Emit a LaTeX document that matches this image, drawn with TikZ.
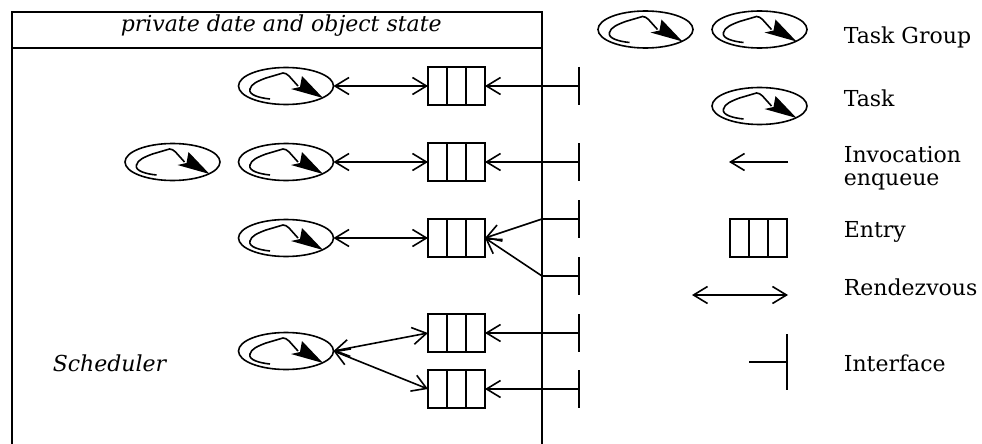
\documentclass[tikz,border=0pt]{standalone}
\usepackage{fontspec}
\setmainfont{DejaVu Serif}
\usetikzlibrary{arrows.meta,shapes.geometric}
\tikzset{
  x=1pt,y=-1pt,
  every path/.style={line width=1.6pt},
  oarrow/.style={-{Straight Barb[length=14pt,width=17pt,line width=1.6pt]}},
  darrow/.style={{Straight Barb[length=14pt,width=17pt,line width=1.6pt]}-{Straight Barb[length=14pt,width=17pt,line width=1.6pt]}},
  taskell/.style={draw,ellipse,minimum width=95pt,minimum height=37pt,inner sep=0pt,outer sep=0pt},
  entrybox/.style={draw,rectangle,minimum width=57pt,minimum height=38pt,inner sep=0pt,outer sep=0pt},
  lab/.style={anchor=base west,inner sep=0pt,font=\fontsize{22}{24}\selectfont},
  ilab/.style={lab,font=\fontsize{22}{24}\selectfont\itshape},
}
\newcommand{\tasknode}[2]{%
  \node[taskell] (#1) at (#2) {};
  \begin{scope}[shift={(#1.center)}]
    \draw (-16,13) .. controls (-26,12) and (-38,9) .. (-36,3) .. controls (-35,-2) and (-28,-5) .. (-20,-8)
      -- (-3,-13) .. controls (-1,-13) and (1,-12) .. (3,-10) -- (12,0);
    \fill (37,12) -- (5,3) -- (14,1) -- (16,-10) -- cycle;
  \end{scope}}
\newcommand{\entrynode}[2]{%
  \node[entrybox] (#1) at (#2) {};
  \draw ([xshift=-9.5pt]#1.north) -- ([xshift=-9.5pt]#1.south);
  \draw ([xshift=9.5pt]#1.north) -- ([xshift=9.5pt]#1.south);}
\begin{document}
\begin{tikzpicture}
\useasboundingbox (0,0) rectangle (982,444);
\coordinate (tl) at (12,12); \coordinate (tr) at (542,12);
\coordinate (bl) at (12,444); \coordinate (br) at (542,444);
\coordinate (hl) at (12,48); \coordinate (hr) at (542,48);
\draw (bl) -- (tl) -- (tr) -- (br);
\draw (hl) -- (hr);
\node[ilab] (title) at (120,32) {private date and object state};
\node[ilab] (sched) at (52,371) {Scheduler};

\tasknode{t1}{286,86}
\tasknode{t2a}{172.5,162}
\tasknode{t2}{286,162}
\tasknode{t3}{286,238}
\tasknode{t4}{286,351}
\tasknode{lga}{645.5,29.5}
\tasknode{lgb}{759.5,29.5}
\tasknode{lt}{759.5,106}

\entrynode{e1}{456.5,86}
\entrynode{e2}{456.5,162}
\entrynode{e3}{456.5,238}
\entrynode{e4}{456.5,333}
\entrynode{e5}{456.5,389}
\entrynode{le}{758.5,238}

\foreach \n/\y in {1/86,2/162,3/219,4/333,5/389,6/276}{
  \coordinate (ic\n) at (579,\y);
  \draw (579,\y-19) -- (579,\y+19);
}
\coordinate (w3) at (542,219); \coordinate (w6) at (542,276);
\draw[oarrow] (ic1) -- (e1.east);
\draw[oarrow] (ic2) -- (e2.east);
\draw (ic3) -- (w3); \draw (ic6) -- (w6);
\draw[oarrow] (w3) -- (e3.east);
\draw[oarrow] (w6) -- (e3.east);
\draw[oarrow] (ic4) -- (e4.east);
\draw[oarrow] (ic5) -- (e5.east);
\draw[darrow] (t1.east) -- (e1.west);
\draw[darrow] (t2.east) -- (e2.west);
\draw[darrow] (t3.east) -- (e3.west);
\draw[darrow] (t4.east) -- (e4.west);
\draw[darrow] (t4.east) -- (e5.west);

\coordinate (la1) at (788,162); \coordinate (la2) at (729,162);
\draw[oarrow] (la1) -- (la2);
\coordinate (lr1) at (692,295); \coordinate (lr2) at (788,295);
\draw[darrow] (lr1) -- (lr2);
\coordinate (li1) at (749,362); \coordinate (li2) at (787,362);
\draw (li1) -- (li2);
\draw (787,334) -- (787,390);

\node[lab] (l1) at (843,43.5) {Task Group};
\node[lab] (l2) at (843,106) {Task};
\node[lab] (l3) at (843,162.5) {Invocation};
\node[lab] (l4) at (843,185.5) {enqueue};
\node[lab] (l5) at (843,237) {Entry};
\node[lab] (l6) at (843,295) {Rendezvous};
\node[lab] (l7) at (843,371) {Interface};
\end{tikzpicture}
\end{document}
